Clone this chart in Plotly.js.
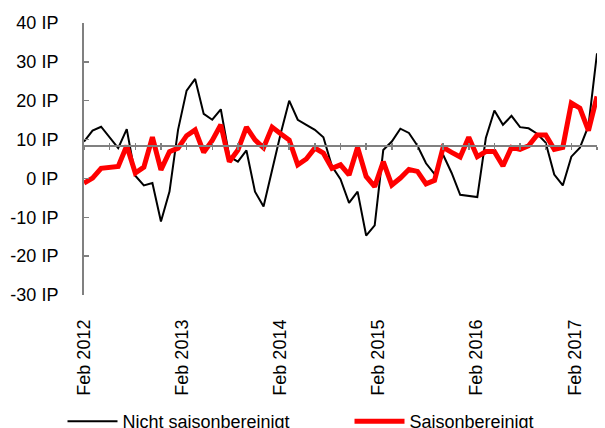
<!DOCTYPE html>
<html><head><meta charset="utf-8">
<script src="https://cdn.plot.ly/plotly-3.0.1.min.js"></script>
<style>html,body{margin:0;padding:0;background:#fff;}#chart{width:605px;height:428px;}</style>
</head><body><div id="chart"></div>
<script>
// Months from Feb 2012 (index 0) to Feb 2017 (index 60)
const months = Array.from({length: 61}, (_, i) => i);
const nichtSaisonbereinigt = [
  9.5, 12.3, 13.3, 10.4, 7.8, 12.7, 0.7, -1.8, -1.2, -11.1,
  -3.4, 12.5, 22.6, 25.6, 16.6, 15.1, 17.8, 5.6, 4.3, 7.2,
  -3.4, -7.2, 2.5, 11.5, 20.0, 15.1, 13.8, 12.5, 10.6, 3.1,
  -0.2, -6.3, -3.4, -14.7, -12.1, 7.3, 9.5, 12.8, 11.7, 8.4,
  3.9, 1.1, 6.1, 1.4, -4.2, -4.5, -4.8, 10.4, 17.5, 13.8,
  16.1, 13.2, 12.9, 11.5, 9.2, 1.0, -1.8, 5.6, 7.9, 13.5,
  32.2
];
const saisonbereinigt = [
  -1.2, 0.1, 2.6, 2.8, 3.1, 8.4, 1.4, 2.9, 10.6, 2.2,
  6.9, 7.8, 11.0, 12.5, 6.7, 9.8, 13.8, 4.3, 7.3, 13.2,
  9.9, 7.9, 13.2, 11.5, 9.9, 3.5, 5.0, 7.8, 6.5, 2.6,
  3.5, 0.9, 8.0, 0.5, -2.1, 4.3, -1.7, 0.1, 2.3, 1.8,
  -1.4, -0.5, 8.0, 6.7, 5.5, 10.6, 5.6, 6.9, 6.9, 3.2,
  8.0, 7.5, 8.4, 11.2, 11.2, 7.5, 8.0, 19.4, 18.1, 12.3,
  21.1
];
const xTickPos = [0, 11.45, 23, 34.4, 45.9, 57.5];
const xTickText = ['Feb 2012', 'Feb 2013', 'Feb 2014', 'Feb 2015', 'Feb 2016', 'Feb 2017'];
const yTickVals = [-30, -20, -10, 0, 10, 20, 30, 40];
const yTickText = yTickVals.map(v => v + ' IP');
const crossingValue = 8.46;

const yMin = -30, yMax = 40;
const crossPos = (crossingValue - yMin) / (yMax - yMin);
const FONT = 'Liberation Sans, Arial, sans-serif';

const traces = [
  {x: months, y: nichtSaisonbereinigt, type: 'scatter', mode: 'lines',
   name: 'Nicht saisonbereinigt', line: {color: '#000000', width: 2},
   xaxis: 'x', yaxis: 'y', legend: 'legend'},
  {x: months, y: saisonbereinigt, type: 'scatter', mode: 'lines',
   name: 'Saisonbereinigt', line: {color: '#ff0000', width: 5},
   xaxis: 'x', yaxis: 'y', legend: 'legend2'}
];

const legendBase = {orientation: 'h', xref: 'container', yref: 'container',
  xanchor: 'left', y: 0.0584, yanchor: 'top', itemwidth: 50,
  font: {family: FONT, size: 18, color: '#000000'}, bgcolor: 'rgba(0,0,0,0)'};

const layout = {
  width: 605, height: 428,
  margin: {l: 84, r: 8, t: 23, b: 133, autoexpand: false},
  paper_bgcolor: '#ffffff', plot_bgcolor: '#ffffff',
  font: {family: FONT, size: 18, color: '#000000'},
  showlegend: true,
  legend: Object.assign({}, legendBase, {x: 0.1033}),
  legend2: Object.assign({}, legendBase, {x: 0.5777}),
  xaxis: {range: [0, 60], anchor: 'free', position: crossPos,
          showline: true, linecolor: '#808080', linewidth: 2,
          ticks: 'outside', ticklen: 3, tickcolor: '#808080', tickwidth: 1.5,
          tick0: 0, dtick: 3, showticklabels: false, showgrid: false, zeroline: false},
  xaxis3: {range: [0, 60], overlaying: 'x', anchor: 'free', position: crossPos,
          showline: false, ticks: 'inside', ticklen: 3, tickcolor: '#808080', tickwidth: 1.5,
          tick0: 0, dtick: 3, showticklabels: false, showgrid: false, zeroline: false},
  xaxis2: {range: [0, 60], overlaying: 'x', anchor: 'y', side: 'bottom',
           showline: false, ticks: '', showgrid: false, zeroline: false,
           tickmode: 'array', tickvals: xTickPos, ticktext: xTickText,
           tickangle: -90, ticklabelstandoff: 20,
           tickfont: {family: FONT, size: 18, color: '#000000'}},
  yaxis: {range: [yMin, yMax], showline: true, linecolor: '#808080', linewidth: 2,
          ticks: 'inside', ticklen: 5, tickcolor: '#808080', tickwidth: 1.5,
          tickmode: 'array', tickvals: yTickVals, ticktext: yTickText,
          ticklabelstandoff: 20, showgrid: false, zeroline: false,
          tickfont: {family: FONT, size: 18, color: '#000000'}}
};

// invisible traces so the overlay axes render
traces.unshift({x: [0], y: [null], xaxis: 'x2', yaxis: 'y', showlegend: false, hoverinfo: 'skip', mode: 'lines'});
traces.unshift({x: [0], y: [null], xaxis: 'x3', yaxis: 'y', showlegend: false, hoverinfo: 'skip', mode: 'lines'});

Plotly.newPlot('chart', traces, layout, {staticPlot: true, displayModeBar: false});
</script></body></html>
